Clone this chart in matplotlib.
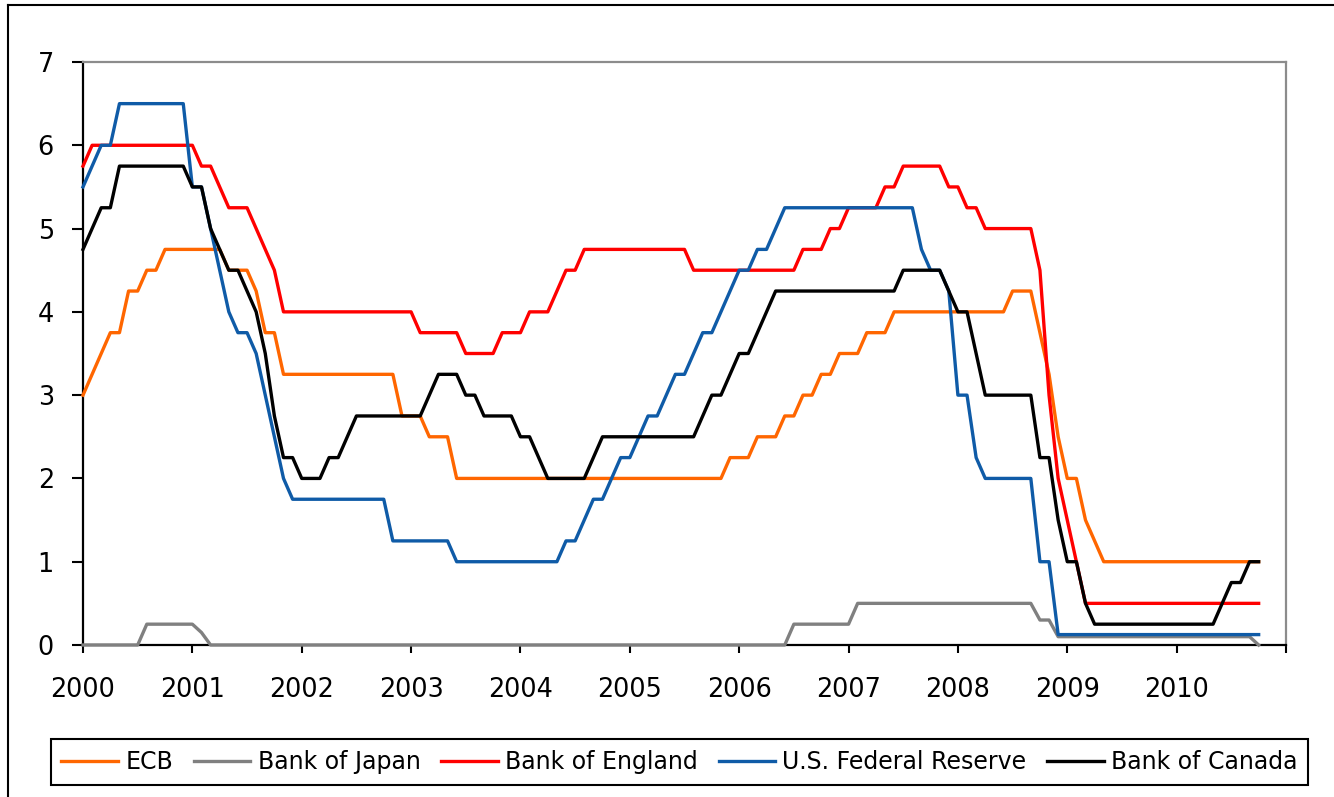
import numpy as np
import matplotlib
matplotlib.use("Agg")
import matplotlib.pyplot as plt
from matplotlib.lines import Line2D

# monthly policy rates, Jan 2000 - Oct 2010 (month-end, %)
ecb = ([3.00, 3.25, 3.50, 3.75, 3.75, 4.25, 4.25, 4.50, 4.50, 4.75, 4.75, 4.75]
       + [4.75, 4.75, 4.75, 4.75, 4.50, 4.50, 4.50, 4.25, 3.75, 3.75, 3.25, 3.25]
       + [3.25] * 11 + [2.75]
       + [2.75, 2.75, 2.50, 2.50, 2.50] + [2.00] * 7
       + [2.00] * 12
       + [2.00] * 11 + [2.25]
       + [2.25, 2.25, 2.50, 2.50, 2.50, 2.75, 2.75, 3.00, 3.00, 3.25, 3.25, 3.50]
       + [3.50, 3.50, 3.75, 3.75, 3.75] + [4.00] * 7
       + [4.00] * 6 + [4.25, 4.25, 4.25, 3.75, 3.25, 2.50]
       + [2.00, 2.00, 1.50, 1.25] + [1.00] * 8
       + [1.00] * 10)

boj = ([0.0] * 7 + [0.25] * 5
       + [0.25, 0.15] + [0.0] * 10
       + [0.0] * 48
       + [0.0] * 6 + [0.25] * 6
       + [0.25] + [0.5] * 11
       + [0.5] * 9 + [0.3, 0.3, 0.1]
       + [0.1] * 12
       + [0.1] * 9 + [0.0])

boe = ([5.75] + [6.00] * 11
       + [6.00, 5.75, 5.75, 5.50, 5.25, 5.25, 5.25, 5.00, 4.75, 4.50, 4.00, 4.00]
       + [4.00] * 12
       + [4.00, 3.75, 3.75, 3.75, 3.75, 3.75, 3.50, 3.50, 3.50, 3.50, 3.75, 3.75]
       + [3.75, 4.00, 4.00, 4.00, 4.25, 4.50, 4.50] + [4.75] * 5
       + [4.75] * 7 + [4.50] * 5
       + [4.50] * 7 + [4.75, 4.75, 4.75, 5.00, 5.00]
       + [5.25] * 4 + [5.50, 5.50] + [5.75] * 5 + [5.50]
       + [5.50, 5.25, 5.25] + [5.00] * 6 + [4.50, 3.00, 2.00]
       + [1.50, 1.00] + [0.50] * 10
       + [0.50] * 10)

fed = ([5.50, 5.75, 6.00, 6.00] + [6.50] * 8
       + [5.50, 5.50, 5.00, 4.50, 4.00, 3.75, 3.75, 3.50, 3.00, 2.50, 2.00, 1.75]
       + [1.75] * 10 + [1.25, 1.25]
       + [1.25] * 5 + [1.00] * 7
       + [1.00] * 5 + [1.25, 1.25, 1.50, 1.75, 1.75, 2.00, 2.25]
       + [2.25, 2.50, 2.75, 2.75, 3.00, 3.25, 3.25, 3.50, 3.75, 3.75, 4.00, 4.25]
       + [4.50, 4.50, 4.75, 4.75, 5.00] + [5.25] * 7
       + [5.25] * 8 + [4.75, 4.50, 4.50, 4.25]
       + [3.00, 3.00, 2.25] + [2.00] * 6 + [1.00, 1.00, 0.125]
       + [0.125] * 12
       + [0.125] * 10)

boc = ([4.75, 5.00, 5.25, 5.25] + [5.75] * 8
       + [5.50, 5.50, 5.00, 4.75, 4.50, 4.50, 4.25, 4.00, 3.50, 2.75, 2.25, 2.25]
       + [2.00, 2.00, 2.00, 2.25, 2.25, 2.50] + [2.75] * 6
       + [2.75, 2.75, 3.00, 3.25, 3.25, 3.25, 3.00, 3.00] + [2.75] * 4
       + [2.50, 2.50, 2.25] + [2.00] * 5 + [2.25, 2.50, 2.50, 2.50]
       + [2.50] * 8 + [2.75, 3.00, 3.00, 3.25]
       + [3.50, 3.50, 3.75, 4.00] + [4.25] * 8
       + [4.25] * 6 + [4.50] * 5 + [4.25]
       + [4.00, 4.00, 3.50] + [3.00] * 6 + [2.25, 2.25, 1.50]
       + [1.00, 1.00, 0.50] + [0.25] * 9
       + [0.25] * 5 + [0.50, 0.75, 0.75, 1.00, 1.00])

names = ["ECB", "Bank of Japan", "Bank of England", "U.S. Federal Reserve", "Bank of Canada"]
colors = ["#FF6600", "#808080", "#FF0000", "#0F5BA7", "#000000"]
years = list(range(2000, 2012))
year_labels = [str(y) for y in range(2000, 2011)] + [""]

months = 2000 + np.arange(len(ecb)) / 12.0

W, H = 1334, 797
fig = plt.figure(figsize=(W / 100, H / 100), dpi=100)
ax = fig.add_axes([83 / W, 1 - 645 / H, (1286 - 83) / W, (645 - 62) / H])

for vals, name, c in zip([ecb, boj, boe, fed, boc], names, colors):
    ax.plot(months, vals, color=c, lw=2.4, label=name, zorder=3, clip_on=False)

ax.set_xlim(2000, 2011)
ax.set_ylim(0, 7)
ax.set_xticks(years)
ax.set_xticklabels(year_labels)
ax.set_yticks(range(0, 8))

for s in ["left", "bottom"]:
    ax.spines[s].set_color("black")
    ax.spines[s].set_linewidth(1.6)
for s in ["top", "right"]:
    ax.spines[s].set_color("#8c8c8c")
    ax.spines[s].set_linewidth(1.6)

ax.tick_params(axis="y", direction="out", length=8, width=1.5, pad=13, labelsize=18.4)
ax.tick_params(axis="x", direction="out", length=6, width=1.5, pad=17, labelsize=18.4)

fig.legend(loc="center", ncol=5, mode="expand",
           bbox_to_anchor=(39 / W, 1 - 787 / H, (1320 - 39) / W, 50 / H),
           fontsize=17, frameon=True, fancybox=False, edgecolor="black",
           framealpha=1, handlelength=2.4, handletextpad=0.3, borderpad=0.45,
           columnspacing=0.7).get_frame().set_linewidth(1.5)

# outer chart frame (left and top edges visible)
fig.add_artist(Line2D([8 / W, 8 / W], [0, 1 - 5 / H], color="black", lw=1.5))
fig.add_artist(Line2D([8 / W, 1], [1 - 5 / H, 1 - 5 / H], color="black", lw=1.5))

fig.savefig("out.png", dpi=100, facecolor="white")
